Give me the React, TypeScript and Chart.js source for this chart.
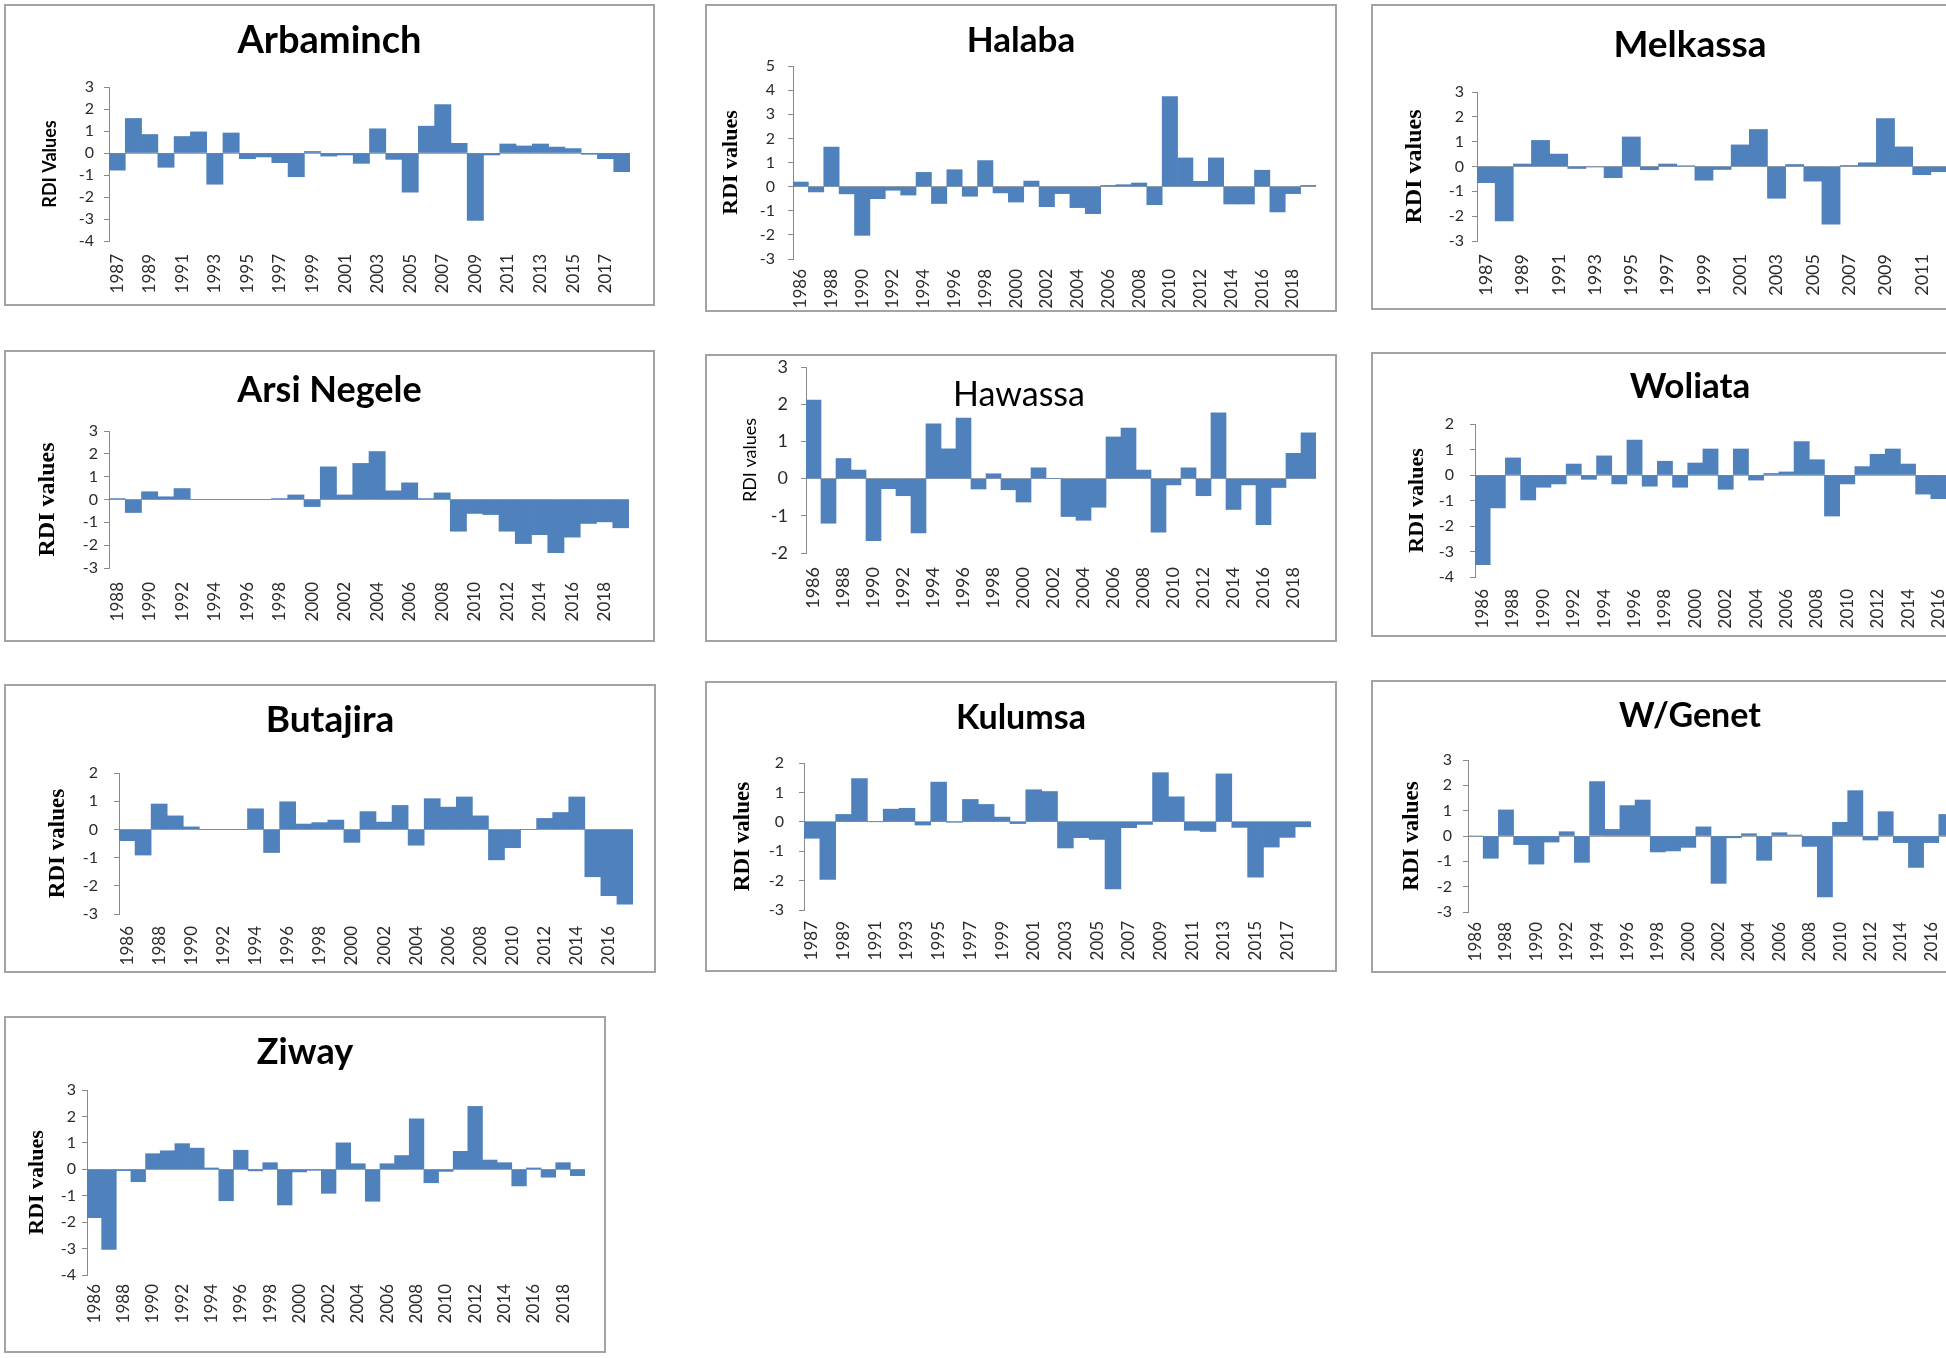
import React, { useEffect, useRef } from 'react';
import { Chart, registerables } from 'chart.js';

Chart.register(...registerables);

// ---------------- DATA ----------------
const YEARS = [
  '1986', '1987', '1988', '1989', '1990', '1991', '1992', '1993', '1994', '1995',
  '1996', '1997', '1998', '1999', '2000', '2001', '2002', '2003', '2004', '2005',
  '2006', '2007', '2008', '2009', '2010', '2011', '2012', '2013', '2014', '2015',
  '2016', '2017', '2018', '2019',
];

const arbaminchYears = YEARS.slice(1, 33); // 1987-2018
const arbaminchRdi = [
  -0.78, 1.57, 0.84, -0.65, 0.75, 0.96, -1.42, 0.91, -0.26, -0.18,
  -0.44, -1.08, 0.07, -0.14, -0.09, -0.47, 1.1, -0.29, -1.78, 1.22,
  2.2, 0.44, -3.06, -0.09, 0.41, 0.32, 0.41, 0.27, 0.2, -0.06,
  -0.26, -0.85,
];

const halabaYears = YEARS.slice(0, 34); // 1986-2019
const halabaRdi = [
  0.19, -0.22, 1.64, -0.3, -2.02, -0.5, -0.15, -0.35, 0.59, -0.7,
  0.7, -0.4, 1.08, -0.26, -0.64, 0.23, -0.83, -0.29, -0.87, -1.12,
  0.05, 0.08, 0.15, -0.75, 3.73, 1.19, 0.22, 1.19, -0.72, -0.72,
  0.68, -1.05, -0.29, 0.05,
];

const melkassaYears = YEARS.slice(1, 27); // 1987-2012 (visible part)
const melkassaRdi = [
  -0.65, -2.19, 0.1, 1.05, 0.5, -0.08, -0.02, -0.45, 1.19, -0.13,
  0.1, 0.03, -0.55, -0.12, 0.87, 1.49, -1.28, 0.08, -0.59, -2.32,
  0.04, 0.15, 1.93, 0.79, -0.33, -0.21,
];

const arsiNegeleYears = YEARS.slice(2, 34); // 1988-2019
const arsiNegeleRdi = [
  0.04, -0.57, 0.34, 0.12, 0.48, 0, 0, 0, 0, 0,
  0.04, 0.2, -0.31, 1.43, 0.2, 1.58, 2.1, 0.38, 0.73, 0.04,
  0.29, -1.39, -0.61, -0.66, -1.39, -1.93, -1.54, -2.33, -1.65, -1.05,
  -0.98, -1.24,
];

const hawassaYears = YEARS.slice(0, 34); // 1986-2019
const hawassaRdi = [
  2.11, -1.2, 0.54, 0.23, -1.67, -0.27, -0.46, -1.46, 1.47, 0.8,
  1.63, -0.28, 0.13, -0.3, -0.63, 0.29, 0, -1.02, -1.12, -0.77,
  1.12, 1.36, 0.23, -1.44, -0.17, 0.29, -0.46, 1.77, -0.83, -0.17,
  -1.24, -0.24, 0.68, 1.23,
];

const woliataYears = YEARS.slice(0, 31); // 1986-2016 (visible part)
const woliataRdi = [
  -3.52, -1.29, 0.67, -0.98, -0.48, -0.35, 0.43, -0.17, 0.75, -0.35,
  1.37, -0.44, 0.54, -0.48, 0.47, 1.02, -0.56, 1.02, -0.2, 0.06,
  0.12, 1.31, 0.6, -1.61, -0.35, 0.33, 0.81, 1.02, 0.43, -0.75,
  -0.93,
];

const butajiraYears = YEARS.slice(0, 32); // 1986-2017
const butajiraRdi = [
  -0.4, -0.91, 0.9, 0.48, 0.09, 0, 0, 0, 0.73, -0.82,
  0.98, 0.19, 0.24, 0.33, -0.46, 0.63, 0.26, 0.85, -0.56, 1.09,
  0.79, 1.15, 0.48, -1.08, -0.65, 0, 0.39, 0.6, 1.15, -1.68,
  -2.35, -2.65,
];

const kulumsaYears = YEARS.slice(1, 33); // 1987-2018
const kulumsaRdi = [
  -0.56, -1.96, 0.25, 1.47, 0, 0.43, 0.46, -0.11, 1.35, -0.01,
  0.76, 0.59, 0.16, -0.06, 1.09, 1.03, -0.89, -0.54, -0.6, -2.28,
  -0.2, -0.09, 1.67, 0.85, -0.29, -0.33, 1.63, -0.19, -1.88, -0.86,
  -0.53, -0.17,
];

const wGenetYears = YEARS.slice(0, 32); // 1986-2017 (visible part)
const wGenetRdi = [
  0, -0.88, 1.03, -0.34, -1.11, -0.24, 0.17, -1.04, 2.15, 0.26,
  1.2, 1.42, -0.63, -0.59, -0.45, 0.36, -1.87, -0.07, 0.09, -0.96,
  0.13, 0.04, -0.41, -2.4, 0.54, 1.79, -0.16, 0.96, -0.26, -1.24,
  -0.26, 0.85,
];

const ziwayYears = YEARS.slice(0, 34); // 1986-2019
const ziwayRdi = [
  -1.83, -3.03, -0.05, -0.47, 0.59, 0.7, 0.97, 0.8, 0.05, -1.19,
  0.72, -0.06, 0.25, -1.35, -0.1, -0.04, -0.91, 1.0, 0.21, -1.21,
  0.21, 0.52, 1.91, -0.51, -0.08, 0.68, 2.38, 0.35, 0.25, -0.63,
  0.05, -0.3, 0.25, -0.24,
];

// ---------------- STYLE / LAYOUT ----------------
const BAR_COLOR = '#4F81BD';
const AXIS_COLOR = '#8a8a8a';
const ZERO_COLOR = '#a6a6a6';
const TICK_COLOR = '#2b2b2b';
const SANS = 'Lato, "Open Sans", sans-serif';
const SERIF = '"Liberation Serif", "Times New Roman", serif';
const BORDER = 2;

type PanelSpec = {
  key: string;
  title: string;
  titleMode: 'top' | 'overlay';
  titleWeight: string;
  titleSize: number;
  titleY: number; // full-page px: center (top mode) or baseline (overlay)
  titleX?: number; // overlay only
  yTitle: string;
  yTitleFamily: string;
  yTitleWeight: string;
  yTitleSize: number;
  yTitleX: number;
  labels: string[];
  values: number[];
  yMin: number;
  yMax: number;
  box: { l: number; t: number; w: number; h: number };
  plot: { left: number; top: number; bottom: number; right: number };
  tickSize: number;
  tickGap: number;
  xTickSize: number;
  xLabelTop: number;
};

const PANELS: PanelSpec[] = [
  {
    key: 'arbaminch', title: 'Arbaminch', titleMode: 'top', titleWeight: 'bold', titleSize: 38, titleY: 41,
    yTitle: 'RDI Values', yTitleFamily: SANS, yTitleWeight: 'bold', yTitleSize: 18, yTitleX: 50,
    labels: arbaminchYears, values: arbaminchRdi, yMin: -4, yMax: 3,
    box: { l: 4, t: 4, w: 651, h: 302 }, plot: { left: 109, top: 87, bottom: 241, right: 630 },
    tickSize: 16, tickGap: 15, xTickSize: 17, xLabelTop: 254,
  },
  {
    key: 'halaba', title: 'Halaba', titleMode: 'top', titleWeight: 'bold', titleSize: 35, titleY: 41,
    yTitle: 'RDI values', yTitleFamily: SERIF, yTitleWeight: 'bold', yTitleSize: 22, yTitleX: 731,
    labels: halabaYears, values: halabaRdi, yMin: -3, yMax: 5,
    box: { l: 705, t: 4, w: 632, h: 308 }, plot: { left: 793, top: 66, bottom: 259, right: 1316 },
    tickSize: 16, tickGap: 18, xTickSize: 17, xLabelTop: 269,
  },
  {
    key: 'melkassa', title: 'Melkassa', titleMode: 'top', titleWeight: 'bold', titleSize: 37, titleY: 45,
    yTitle: 'RDI values', yTitleFamily: SERIF, yTitleWeight: 'bold', yTitleSize: 24, yTitleX: 1415,
    labels: melkassaYears, values: melkassaRdi, yMin: -3, yMax: 3,
    box: { l: 1371, t: 4, w: 638, h: 306 }, plot: { left: 1477, top: 92, bottom: 241, right: 1949 },
    tickSize: 16, tickGap: 13, xTickSize: 18, xLabelTop: 254,
  },
  {
    key: 'arsi', title: 'Arsi Negele', titleMode: 'top', titleWeight: 'bold', titleSize: 36, titleY: 390,
    yTitle: 'RDI values', yTitleFamily: SERIF, yTitleWeight: 'bold', yTitleSize: 24, yTitleX: 48,
    labels: arsiNegeleYears, values: arsiNegeleRdi, yMin: -3, yMax: 3,
    box: { l: 4, t: 350, w: 651, h: 292 }, plot: { left: 109, top: 431, bottom: 568, right: 629 },
    tickSize: 16, tickGap: 11, xTickSize: 17, xLabelTop: 582,
  },
  {
    key: 'hawassa', title: 'Hawassa', titleMode: 'overlay', titleWeight: 'normal', titleSize: 34, titleY: 406, titleX: 1019,
    yTitle: 'RDI values', yTitleFamily: SANS, yTitleWeight: 'normal', yTitleSize: 18, yTitleX: 750,
    labels: hawassaYears, values: hawassaRdi, yMin: -2, yMax: 3,
    box: { l: 705, t: 354, w: 632, h: 288 }, plot: { left: 806, top: 367, bottom: 553, right: 1316 },
    tickSize: 18, tickGap: 18, xTickSize: 18, xLabelTop: 567,
  },
  {
    key: 'woliata', title: 'Woliata', titleMode: 'top', titleWeight: 'bold', titleSize: 35, titleY: 387,
    yTitle: 'RDI values', yTitleFamily: SERIF, yTitleWeight: 'bold', yTitleSize: 22, yTitleX: 1417,
    labels: woliataYears, values: woliataRdi, yMin: -4, yMax: 2,
    box: { l: 1371, t: 352, w: 638, h: 285 }, plot: { left: 1475, top: 424, bottom: 577, right: 1946 },
    tickSize: 16, tickGap: 21, xTickSize: 17, xLabelTop: 589,
  },
  {
    key: 'butajira', title: 'Butajira', titleMode: 'top', titleWeight: 'bold', titleSize: 37, titleY: 720,
    yTitle: 'RDI values', yTitleFamily: SERIF, yTitleWeight: 'bold', yTitleSize: 23, yTitleX: 58,
    labels: butajiraYears, values: butajiraRdi, yMin: -3, yMax: 2,
    box: { l: 4, t: 684, w: 652, h: 289 }, plot: { left: 119, top: 773, bottom: 914, right: 633 },
    tickSize: 16, tickGap: 21, xTickSize: 17, xLabelTop: 926,
  },
  {
    key: 'kulumsa', title: 'Kulumsa', titleMode: 'top', titleWeight: 'bold', titleSize: 34, titleY: 718,
    yTitle: 'RDI values', yTitleFamily: SERIF, yTitleWeight: 'bold', yTitleSize: 23, yTitleX: 743,
    labels: kulumsaYears, values: kulumsaRdi, yMin: -3, yMax: 2,
    box: { l: 705, t: 681, w: 632, h: 291 }, plot: { left: 804, top: 763, bottom: 910, right: 1311 },
    tickSize: 16, tickGap: 20, xTickSize: 17, xLabelTop: 921,
  },
  {
    key: 'wgenet', title: 'W/Genet', titleMode: 'top', titleWeight: 'bold', titleSize: 34, titleY: 716,
    yTitle: 'RDI values', yTitleFamily: SERIF, yTitleWeight: 'bold', yTitleSize: 23, yTitleX: 1412,
    labels: wGenetYears, values: wGenetRdi, yMin: -3, yMax: 3,
    box: { l: 1371, t: 680, w: 638, h: 293 }, plot: { left: 1468, top: 760, bottom: 912, right: 1954 },
    tickSize: 16, tickGap: 16, xTickSize: 17, xLabelTop: 922,
  },
  {
    key: 'ziway', title: 'Ziway', titleMode: 'top', titleWeight: 'bold', titleSize: 36, titleY: 1052,
    yTitle: 'RDI values', yTitleFamily: SERIF, yTitleWeight: 'bold', yTitleSize: 22, yTitleX: 37,
    labels: ziwayYears, values: ziwayRdi, yMin: -4, yMax: 3,
    box: { l: 4, t: 1016, w: 602, h: 337 }, plot: { left: 87, top: 1090, bottom: 1275, right: 585 },
    tickSize: 16, tickGap: 11, xTickSize: 17, xLabelTop: 1284,
  },
];

// Draws a chart title inside the plot area (used for "Hawassa").
const overlayTitlePlugin = {
  id: 'overlayTitle',
  afterDatasetsDraw(chart: any, _args: any, opts: any) {
    if (!opts || !opts.text) return;
    const ctx = chart.ctx;
    ctx.save();
    ctx.font = `${opts.weight} ${opts.size}px ${opts.family}`;
    ctx.fillStyle = opts.color || '#000';
    ctx.textAlign = 'center';
    ctx.textBaseline = 'alphabetic';
    ctx.fillText(opts.text, opts.x, opts.y);
    ctx.restore();
  },
};

function RdiPanel({ spec }: { spec: PanelSpec }) {
  const canvasRef = useRef<HTMLCanvasElement | null>(null);
  const cw = spec.box.w - 2 * BORDER;
  const ch = spec.box.h - 2 * BORDER;

  useEffect(() => {
    const canvas = canvasRef.current;
    if (!canvas) return;
    const ox = spec.box.l + BORDER;
    const oy = spec.box.t + BORDER;
    const plotLeft = spec.plot.left - ox;
    const plotRight = spec.plot.right - ox;
    const plotTop = spec.plot.top - oy;
    const plotBottom = spec.plot.bottom - oy;
    const rightPad = Math.max(cw - plotRight, 1);
    const isTop = spec.titleMode === 'top';
    const lh = spec.titleSize * 1.2;
    const titlePadTop = Math.max(spec.titleY - oy - lh / 2, 0);
    const titlePadBottom = Math.max(plotTop - titlePadTop - lh, 0);
    const yTitlePad = spec.yTitleX - ox - (spec.yTitleSize * 1.2) / 2;
    const labels = spec.labels;

    const chart = new Chart(canvas, {
      type: 'bar',
      data: {
        labels,
        datasets: [
          {
            data: spec.values,
            backgroundColor: BAR_COLOR,
            borderWidth: 0,
            barPercentage: 1,
            categoryPercentage: 1,
            xAxisID: 'x',
            yAxisID: 'y',
          },
        ],
      },
      options: {
        animation: false,
        responsive: false,
        maintainAspectRatio: false,
        events: [],
        layout: { padding: { left: 0, right: 0, top: isTop ? 0 : plotTop, bottom: 0 } },
        plugins: {
          legend: { display: false },
          tooltip: { enabled: false },
          title: isTop
            ? {
                display: true,
                text: spec.title,
                color: '#000',
                font: { family: SANS, size: spec.titleSize, weight: spec.titleWeight, lineHeight: 1.2 },
                padding: { top: titlePadTop, bottom: titlePadBottom },
              }
            : { display: false },
          overlayTitle: isTop
            ? { text: '' }
            : {
                text: spec.title,
                x: (spec.titleX || 0) - ox,
                y: spec.titleY - oy,
                size: spec.titleSize,
                weight: spec.titleWeight,
                family: SANS,
                color: '#000',
              },
        } as any,
        scales: {
          x: {
            type: 'category',
            offset: true,
            grid: { display: false, drawTicks: false },
            border: { display: false },
            ticks: {
              autoSkip: false,
              minRotation: 90,
              maxRotation: 90,
              padding: spec.xLabelTop - spec.plot.bottom,
              color: TICK_COLOR,
              font: { family: SANS, size: spec.xTickSize },
              callback: (_v: any, i: number) => (i % 2 === 0 ? labels[i] : ''),
            },
            afterFit: (s: any) => {
              s.height = ch - plotBottom;
              s.paddingLeft = 0;
              s.paddingRight = 0;
            },
          },
          y: {
            type: 'linear',
            position: 'left',
            min: spec.yMin,
            max: spec.yMax,
            ticks: {
              stepSize: 1,
              autoSkip: false,
              maxTicksLimit: 20,
              padding: spec.tickGap - 5,
              color: TICK_COLOR,
              font: { family: SANS, size: spec.tickSize },
              callback: (v: any) => String(v),
            },
            grid: {
              drawOnChartArea: true,
              drawTicks: true,
              tickLength: 5,
              tickColor: AXIS_COLOR,
              lineWidth: 1,
              color: (c: any) => (c.tick && c.tick.value === 0 ? ZERO_COLOR : 'rgba(0,0,0,0)'),
            },
            border: { display: true, color: AXIS_COLOR, width: 1 },
            title: {
              display: true,
              text: spec.yTitle,
              color: '#000',
              font: { family: spec.yTitleFamily, size: spec.yTitleSize, weight: spec.yTitleWeight, lineHeight: 1.2 },
              padding: { top: yTitlePad, bottom: 0 },
            },
            afterFit: (s: any) => {
              s.width = plotLeft;
              s.paddingTop = 0;
              s.paddingBottom = 0;
            },
          },
          yPad: {
            type: 'linear',
            position: 'right',
            display: true,
            grid: { display: false, drawTicks: false },
            border: { display: false },
            ticks: { display: false },
            afterFit: (s: any) => {
              s.width = rightPad;
              s.paddingTop = 0;
              s.paddingBottom = 0;
            },
          },
        },
      } as any,
      plugins: [overlayTitlePlugin as any],
    });
    return () => chart.destroy();
  }, [spec, cw, ch]);

  return (
    <div
      style={{
        position: 'absolute',
        left: spec.box.l,
        top: spec.box.t,
        width: spec.box.w,
        height: spec.box.h,
        boxSizing: 'border-box',
        border: `${BORDER}px solid #a3a3a3`,
        background: '#fff',
        overflow: 'hidden',
      }}
    >
      <canvas ref={canvasRef} width={cw} height={ch} style={{ position: 'absolute', left: 0, top: 0 }} />
    </div>
  );
}

export default function App() {
  return (
    <div
      style={{
        position: 'absolute',
        left: 0,
        top: 0,
        width: 1946,
        height: 1358,
        overflow: 'hidden',
        background: '#fff',
      }}
    >
      {PANELS.map((p) => (
        <RdiPanel key={p.key} spec={p} />
      ))}
    </div>
  );
}
